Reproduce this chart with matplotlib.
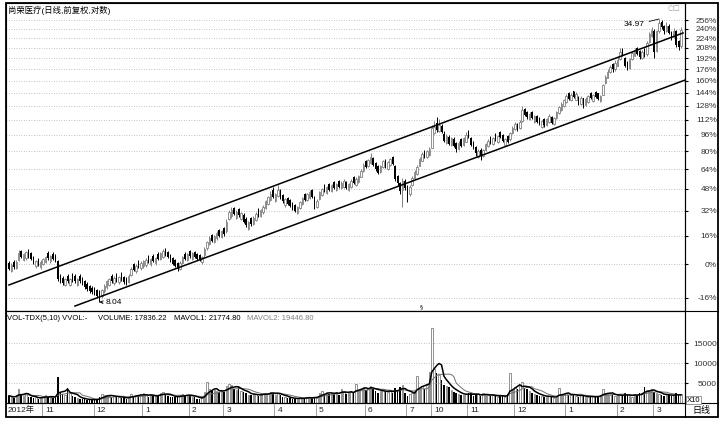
import numpy as np
import pandas as pd
import matplotlib
matplotlib.use('Agg')
import matplotlib.pyplot as plt
from matplotlib.ticker import NullLocator
from matplotlib.patches import Rectangle
from matplotlib.lines import Line2D

plt.rcParams['font.family'] = ['Liberation Sans', 'Noto Sans CJK SC', 'DejaVu Sans']
plt.rcParams['axes.unicode_minus'] = False

# ---- data ----
title = '尚荣医疗(日线,前复权,对数)'
base_price = 9.77          # price at the 0% line
pct_ticks = [-16, 0, 16, 32, 48, 64, 80, 96, 112, 128, 144, 160, 176, 192, 208, 224, 240, 256]
vol_ticks = [5000, 10000, 15000]

month_starts = [0, 14, 35, 55, 74, 88, 109, 126, 146, 163, 173, 188, 207, 228, 249, 264]
month_labels = ['2012年', '11', '12', '1', '2', '3', '4', '5', '6', '7', '10', '11', '12', '1', '2', '3']

opens = [
    9.85, 9.45, 9.90, 9.60, 10.00, 10.45, 10.00, 10.10, 10.50, 10.35,
    10.12, 9.68, 10.02, 9.62, 9.78, 9.88, 10.38, 9.92, 10.32, 10.22,
    9.95, 9.20, 9.10, 8.80, 9.20, 8.80, 9.25, 9.20, 8.80, 9.20,
    9.08, 8.95, 8.82, 8.74, 8.66, 8.62, 8.55, 8.48, 8.28, 8.50,
    8.70, 8.80, 9.20, 8.85, 9.25, 8.90, 9.30, 9.15, 9.08, 8.92,
    9.25, 9.78, 9.42, 9.92, 9.58, 9.68, 9.72, 10.18, 9.78, 10.22,
    9.82, 10.32, 10.05, 10.15, 10.58, 10.42, 10.22, 10.08, 9.98, 9.82,
    9.55, 9.85, 10.32, 10.00, 10.48, 10.05, 10.42, 10.30, 10.25, 9.88,
    10.25, 10.62, 10.88, 11.38, 10.98, 11.18, 11.68, 11.28, 11.80, 11.60,
    12.35, 12.55, 13.10, 12.45, 13.00, 12.35, 12.65, 12.40, 11.75, 12.45,
    12.05, 12.30, 13.00, 12.55, 12.80, 13.12, 13.40, 13.65, 14.35, 13.60,
    13.95, 14.30, 13.98, 13.28, 13.82, 13.65, 13.45, 13.30, 12.75, 13.08,
    13.38, 14.08, 13.62, 13.82, 14.35, 13.85, 13.15, 13.72, 14.00, 14.78,
    14.15, 14.85, 14.30, 15.00, 14.40, 15.05, 14.50, 14.60, 15.02, 14.35,
    14.62, 15.38, 14.78, 15.00, 15.42, 15.90, 16.72, 16.25, 16.55, 16.95,
    16.55, 16.28, 15.78, 16.18, 16.80, 16.05, 16.35, 17.05, 16.30, 15.45,
    14.90, 14.40, 15.10, 14.65, 14.10, 14.75, 15.28, 15.65, 16.32, 16.75,
    17.62, 17.05, 17.25, 17.90, 19.30, 20.35, 19.55, 20.10, 19.25, 18.40,
    18.95, 18.20, 18.72, 18.40, 17.80, 18.70, 18.20, 18.50, 19.50, 18.80,
    18.45, 17.95, 17.05, 17.75, 17.15, 17.75, 18.05, 18.95, 18.25, 19.20,
    18.45, 19.40, 19.10, 18.15, 19.00, 18.70, 19.30, 19.70, 20.25, 19.80,
    20.60, 21.90, 21.60, 20.75, 21.55, 20.50, 21.15, 20.90, 19.95, 20.80,
    20.15, 20.45, 21.05, 20.25, 20.95, 21.45, 21.80, 22.20, 22.70, 23.80,
    22.90, 24.00, 23.00, 23.35, 22.50, 23.15, 22.35, 22.75, 23.85, 22.85,
    23.95, 23.75, 22.80, 23.60, 25.10, 25.80, 26.50, 27.70, 26.90, 27.45,
    28.40, 29.90, 28.60, 27.90, 27.10, 28.35, 28.90, 30.10, 29.60, 28.50,
    29.90, 29.20, 31.00, 32.00, 32.90, 29.60, 32.90, 34.50, 33.80, 32.80,
    33.70, 32.70, 31.80, 32.90, 31.20, 30.40,
]
highs = [
    9.92, 9.82, 9.98, 9.98, 10.55, 10.52, 10.38, 10.48, 10.58, 10.42,
    10.20, 10.02, 10.10, 9.98, 10.12, 10.22, 10.45, 10.28, 10.40, 10.30,
    10.02, 9.28, 9.18, 9.12, 9.28, 9.12, 9.32, 9.28, 9.12, 9.28,
    9.15, 9.02, 8.90, 8.80, 8.72, 8.70, 8.62, 8.54, 8.62, 8.82,
    9.02, 9.12, 9.28, 9.18, 9.32, 9.22, 9.38, 9.22, 9.15, 9.28,
    9.62, 9.85, 9.78, 10.00, 9.92, 10.02, 10.08, 10.25, 10.12, 10.30,
    10.18, 10.40, 10.42, 10.58, 10.65, 10.50, 10.30, 10.15, 10.05, 9.90,
    9.92, 10.22, 10.40, 10.38, 10.55, 10.42, 10.50, 10.38, 10.32, 10.22,
    10.70, 11.05, 11.30, 11.45, 11.40, 11.60, 11.75, 11.70, 11.88, 12.35,
    12.95, 13.20, 13.18, 12.95, 13.08, 12.85, 12.75, 12.48, 12.25, 12.52,
    12.55, 12.80, 13.08, 13.05, 13.30, 13.65, 13.95, 14.30, 14.60, 14.15,
    14.75, 14.45, 14.05, 13.80, 13.90, 13.72, 13.52, 13.38, 13.25, 13.60,
    13.90, 14.15, 14.15, 14.40, 14.45, 13.95, 13.70, 14.30, 14.55, 14.85,
    14.70, 14.92, 14.85, 15.08, 14.95, 15.12, 15.05, 15.20, 15.10, 14.90,
    15.20, 15.45, 15.35, 15.55, 16.02, 16.52, 16.80, 16.92, 17.45, 17.05,
    16.62, 16.35, 16.40, 16.82, 16.88, 16.70, 17.00, 17.12, 16.38, 15.55,
    15.00, 15.30, 15.25, 14.75, 14.75, 15.45, 15.95, 16.35, 17.05, 17.50,
    17.72, 17.75, 17.95, 20.20, 20.60, 21.00, 20.80, 20.30, 19.50, 19.20,
    19.10, 18.95, 18.90, 18.50, 18.55, 18.85, 18.95, 19.40, 19.62, 18.95,
    18.55, 18.05, 17.80, 17.85, 17.80, 18.40, 18.75, 19.05, 18.90, 19.30,
    19.10, 19.50, 19.20, 18.85, 19.10, 19.40, 20.10, 20.50, 20.40, 20.70,
    22.20, 22.05, 21.70, 21.55, 21.65, 21.25, 21.25, 21.00, 20.70, 20.90,
    20.95, 21.30, 21.15, 21.00, 21.70, 22.30, 22.70, 23.10, 23.70, 23.90,
    23.80, 24.10, 23.90, 23.45, 23.40, 23.25, 23.30, 23.60, 23.95, 23.70,
    24.05, 23.85, 23.55, 25.00, 26.20, 26.90, 27.60, 27.80, 28.20, 28.70,
    30.10, 30.10, 28.75, 28.05, 28.60, 29.60, 30.10, 30.25, 29.75, 29.70,
    30.05, 31.20, 32.70, 33.60, 33.20, 33.10, 34.97, 34.70, 33.95, 34.40,
    34.00, 32.85, 33.30, 33.00, 31.40, 33.60,
]
lows = [
    9.48, 9.38, 9.55, 9.52, 9.92, 10.08, 9.92, 10.02, 10.12, 9.98,
    9.78, 9.60, 9.68, 9.55, 9.72, 9.82, 10.02, 9.85, 9.98, 9.88,
    8.98, 8.88, 8.78, 8.72, 8.88, 8.72, 8.92, 8.88, 8.72, 8.88,
    8.78, 8.62, 8.52, 8.42, 8.38, 8.32, 8.22, 8.04, 8.20, 8.44,
    8.62, 8.72, 8.88, 8.78, 8.92, 8.82, 8.98, 8.82, 8.76, 8.85,
    9.18, 9.42, 9.35, 9.58, 9.50, 9.60, 9.65, 9.82, 9.70, 9.88,
    9.75, 9.98, 9.98, 10.08, 10.22, 10.08, 9.88, 9.72, 9.62, 9.45,
    9.48, 9.78, 9.98, 9.92, 10.12, 9.98, 10.08, 9.98, 9.92, 9.80,
    10.18, 10.55, 10.80, 10.95, 10.90, 11.10, 11.25, 11.20, 11.35, 11.52,
    12.28, 12.45, 12.60, 12.38, 12.50, 12.28, 12.10, 11.88, 11.68, 11.95,
    11.98, 12.22, 12.50, 12.48, 12.72, 13.05, 13.32, 13.58, 13.80, 13.52,
    13.88, 13.75, 13.45, 13.20, 13.32, 13.15, 12.95, 12.80, 12.68, 13.00,
    13.30, 13.55, 13.55, 13.75, 13.82, 13.00, 13.08, 13.65, 13.92, 14.20,
    14.08, 14.32, 14.22, 14.48, 14.32, 14.52, 14.42, 14.52, 14.45, 14.28,
    14.55, 14.82, 14.70, 14.92, 15.35, 15.82, 16.10, 16.18, 16.48, 16.30,
    15.90, 15.65, 15.70, 16.10, 16.15, 15.98, 16.28, 16.40, 15.10, 14.70,
    14.10, 13.20, 14.35, 13.50, 13.95, 14.65, 15.20, 15.58, 16.25, 16.68,
    16.95, 16.95, 17.15, 17.85, 19.20, 19.40, 19.45, 19.30, 18.50, 18.30,
    18.20, 18.10, 17.95, 17.55, 17.70, 18.00, 18.10, 18.42, 18.80, 18.10,
    17.80, 17.20, 16.95, 16.80, 17.05, 17.65, 17.98, 18.30, 18.18, 18.60,
    18.38, 18.80, 18.50, 18.05, 18.40, 18.60, 19.20, 19.62, 19.50, 19.70,
    20.50, 21.10, 20.85, 20.65, 20.80, 20.40, 20.40, 20.20, 19.85, 20.00,
    20.05, 20.35, 20.30, 20.15, 20.85, 21.35, 21.70, 22.10, 22.60, 22.95,
    22.80, 23.20, 22.90, 22.40, 22.40, 22.00, 22.25, 22.65, 23.05, 22.75,
    23.15, 22.95, 22.70, 23.50, 25.00, 25.70, 26.40, 26.60, 26.70, 27.35,
    28.25, 28.80, 27.20, 26.80, 26.90, 28.20, 28.80, 29.00, 28.40, 28.35,
    28.70, 28.90, 30.80, 31.80, 28.60, 29.40, 32.60, 33.20, 32.40, 32.70,
    32.40, 31.40, 31.60, 30.20, 29.80, 30.10,
]
closes = [
    9.55, 9.75, 9.62, 9.90, 10.35, 10.15, 10.30, 10.40, 10.20, 10.05,
    9.85, 9.95, 9.75, 9.90, 10.05, 10.15, 10.10, 10.20, 10.05, 9.95,
    9.05, 8.95, 8.85, 9.05, 8.95, 9.05, 9.00, 8.95, 9.05, 8.95,
    8.85, 8.70, 8.60, 8.50, 8.45, 8.40, 8.30, 8.25, 8.55, 8.75,
    8.95, 9.05, 8.95, 9.10, 9.00, 9.15, 9.05, 8.90, 8.85, 9.20,
    9.55, 9.50, 9.70, 9.65, 9.85, 9.95, 10.00, 9.90, 10.05, 9.95,
    10.10, 10.05, 10.35, 10.45, 10.30, 10.15, 9.95, 9.80, 9.70, 9.55,
    9.85, 10.15, 10.05, 10.30, 10.20, 10.35, 10.15, 10.05, 10.00, 10.15,
    10.60, 10.95, 11.20, 11.05, 11.30, 11.50, 11.35, 11.60, 11.45, 12.20,
    12.80, 12.95, 12.70, 12.85, 12.60, 12.75, 12.20, 12.00, 12.15, 12.05,
    12.45, 12.70, 12.60, 12.95, 13.20, 13.55, 13.85, 14.10, 13.90, 14.05,
    14.40, 13.85, 13.55, 13.70, 13.40, 13.25, 13.05, 12.90, 13.15, 13.50,
    13.80, 13.65, 14.05, 14.25, 13.90, 13.30, 13.60, 14.20, 14.45, 14.30,
    14.60, 14.40, 14.75, 14.55, 14.85, 14.60, 14.95, 15.05, 14.55, 14.80,
    15.10, 14.90, 15.25, 15.45, 15.90, 16.40, 16.20, 16.80, 17.10, 16.40,
    16.00, 15.75, 16.30, 16.70, 16.25, 16.60, 16.90, 16.50, 15.20, 14.90,
    14.30, 15.10, 14.50, 14.10, 14.60, 15.30, 15.80, 16.20, 16.90, 17.30,
    17.10, 17.60, 17.80, 19.80, 20.00, 19.60, 20.20, 19.40, 18.60, 19.00,
    18.30, 18.80, 18.10, 17.80, 18.40, 18.10, 18.80, 19.10, 18.90, 18.20,
    17.90, 17.40, 17.60, 17.20, 17.70, 18.30, 18.60, 18.40, 18.80, 18.70,
    19.00, 18.90, 18.60, 18.70, 18.50, 19.30, 19.90, 20.30, 19.60, 20.50,
    21.80, 21.20, 21.00, 21.40, 20.90, 21.10, 20.50, 20.30, 20.60, 20.20,
    20.80, 21.10, 20.40, 20.90, 21.60, 22.10, 22.50, 22.90, 23.40, 23.10,
    23.60, 23.30, 23.70, 22.60, 23.20, 22.40, 23.10, 23.40, 23.20, 23.50,
    23.30, 23.10, 23.40, 24.80, 25.90, 26.60, 27.30, 26.90, 27.80, 28.30,
    29.50, 29.00, 27.40, 27.00, 28.40, 29.30, 29.80, 29.20, 28.70, 29.40,
    29.00, 30.90, 32.30, 33.00, 29.50, 32.80, 34.20, 33.60, 32.90, 33.80,
    32.60, 31.80, 32.90, 30.60, 30.20, 33.00,
]
volumes = [
    1800, 1500, 1300, 2000, 3500, 2200, 1800, 2400, 1600, 1400,
    1200, 1500, 1100, 1300, 1700, 1900, 1400, 1600, 1300, 1200,
    6500, 2800, 2300, 2100, 3700, 2400, 1800, 1500, 1200, 1100,
    900, 1000, 800, 700, 900, 800, 1000, 1400, 2200, 1900,
    2100, 1700, 1500, 1800, 1400, 1600, 1300, 1200, 1100, 1500,
    2300, 1800, 2000, 1700, 2200, 2500, 1900, 1600, 2000, 1800,
    1700, 1900, 2600, 2800, 2100, 1800, 1600, 1500, 1400, 1700,
    1900, 2200, 1800, 2100, 1900, 1600, 1400, 1100, 1000, 1300,
    2700, 5200, 3400, 2900, 3300, 3100, 2800, 3200, 2700, 4200,
    4800, 4500, 3600, 3300, 3900, 3000, 2700, 2400, 2100, 1900,
    2200, 2300, 1800, 2000, 2400, 2600, 2300, 2800, 2500, 2100,
    2600, 1900, 1500, 1400, 1300, 1200, 1100, 1000, 1100, 1400,
    1300, 1100, 1500, 1400, 1200, 1600, 1300, 2600, 2900, 2300,
    2700, 2200, 2500, 2400, 2800, 2100, 3500, 2900, 2300, 2600,
    2800, 2500, 4800, 3200, 3600, 4100, 3300, 3700, 4300, 3500,
    2900, 2600, 3100, 3400, 2800, 2700, 3000, 2500, 3800, 3300,
    3900, 4500, 2600, 1800, 2200, 2600, 3100, 6700, 3800, 4300,
    3600, 4400, 7700, 18700, 8500, 7500, 7000, 5800, 4600, 4200,
    3900, 3300, 2800, 2500, 2300, 2100, 1900, 2200, 2600, 2400,
    1800, 2000, 2300, 1700, 2500, 2100, 1900, 1700, 2000, 1800,
    1600, 1900, 1700, 1500, 2300, 7500, 3300, 3900, 3600, 4500,
    5200, 3800, 3400, 2900, 2600, 2300, 2000, 1800, 1700, 1500,
    1600, 1800, 1400, 1300, 1500, 3700, 2300, 2100, 2400, 2000,
    1900, 2200, 1800, 1600, 2000, 1700, 1500, 1400, 1600, 1800,
    1500, 1700, 1900, 3500, 2600, 2300, 2000, 2200, 1800, 1900,
    2100, 1700, 2400, 2000, 1800, 1600, 2300, 2100, 2600, 2400,
    4000, 3200, 2900, 3400, 2700, 2500, 2200, 2000, 1800, 2300,
    2100, 1700, 1900, 2400, 2000, 2200,
]

# channel lines drawn on the chart (bar index, price)
upper_x, upper_y = [0, 275.8], [8.78, 32.52]
lower_x, lower_y = [27, 276.6], [7.87, 25.46]

# ---- layout (pixel boxes of the 728x423 picture) ----
W, H = 728, 423
def fig_box(x0, y0, x1, y1):
    return [x0 / W, 1 - y1 / H, (x1 - x0) / W, (y1 - y0) / H]

fig = plt.figure(figsize=(W / 100, H / 100), dpi=100)
ax1 = fig.add_axes(fig_box(6, 3, 685, 311))
ax2 = fig.add_axes(fig_box(6, 311, 685, 403), sharex=ax1)
ax3 = fig.add_axes(fig_box(6, 403, 685, 417), sharex=ax1)

o = np.array(opens); h = np.array(highs); l = np.array(lows); c = np.array(closes)
v = np.array(volumes)
idx = np.arange(len(c))
up = c >= o
up_col, dn_col = '#808080', 'black'

# ---- price candles ----
ax1.vlines(idx[up], l[up], h[up], color=up_col, lw=0.7, zorder=2)
ax1.vlines(idx[~up], l[~up], h[~up], color=dn_col, lw=0.7, zorder=2)
body_lo = np.minimum(o, c)
body_hi = np.maximum(o, c)
ax1.bar(idx[up], (body_hi - body_lo)[up], bottom=body_lo[up], width=0.6,
        facecolor='white', edgecolor=up_col, lw=0.6, zorder=3)
ax1.bar(idx[~up], (body_hi - body_lo)[~up], bottom=body_lo[~up], width=0.6,
        color=dn_col, lw=0, zorder=3)

ax1.plot(upper_x, upper_y, color='black', lw=1.1, zorder=4)
ax1.plot(lower_x, lower_y, color='black', lw=1.1, zorder=4)

ax1.set_yscale('log')
ax1.set_ylim(7.67, 38.0)
ax1.set_xlim(-1.2, 276.6)
ax1.yaxis.set_minor_locator(NullLocator())
ax1.set_yticks([base_price * (1 + p / 100) for p in pct_ticks])
ax1.set_yticklabels([f'{p}%' for p in pct_ticks])
ax1.yaxis.tick_right()
ax1.tick_params(axis='y', length=2, pad=21, labelsize=6, labelcolor='#333333')
plt.setp(ax1.get_yticklabels(), ha='right')
ax1.tick_params(axis='x', bottom=False, labelbottom=False)
ax1.grid(axis='y', color='#b0b0b0', linestyle=(0, (1, 2)), lw=0.6)

# low / high marks
ax1.annotate('8.04', xy=(37, 8.04), xytext=(39.6, 8.0), fontsize=6,
             va='center', ha='left',
             arrowprops=dict(arrowstyle='->', lw=0.6, color='black',
                             shrinkA=0, shrinkB=0, mutation_scale=5))
ax1.annotate('34.97', xy=(266, 34.97), xytext=(260.2, 33.9), fontsize=6,
             va='center', ha='right',
             arrowprops=dict(arrowstyle='-', lw=0.6, color='black',
                             shrinkA=1, shrinkB=0))

# ---- volume ----
ax2.bar(idx[up], v[up], width=0.6, facecolor='white', edgecolor=up_col, lw=0.6)
ax2.bar(idx[~up], v[~up], width=0.6, color=dn_col, lw=0)
ma5 = pd.Series(v).rolling(5, min_periods=1).mean()
ma10 = pd.Series(v).rolling(10, min_periods=1).mean()
ax2.plot(idx, ma10, color='#707070', lw=0.7)
ax2.plot(idx, ma5, color='black', lw=1.1)
ax2.set_ylim(0, 23000)
ax2.set_yticks(vol_ticks)
ax2.set_yticklabels([str(t) for t in vol_ticks])
ax2.yaxis.tick_right()
ax2.tick_params(axis='y', length=2, pad=21, labelsize=6, labelcolor='#333333')
plt.setp(ax2.get_yticklabels(), ha='right')
ax2.tick_params(axis='x', bottom=False, labelbottom=False)
ax2.grid(axis='y', color='#b0b0b0', linestyle=(0, (1, 2)), lw=0.6)

# ---- month row ----
ax3.set_ylim(0, 1)
ax3.axis('off')
for k, (m, lab) in enumerate(zip(month_starts, month_labels)):
    if k > 0:
        ax3.vlines(m - 0.4, 0.1, 0.9, color='#909090', lw=0.6)
        tx = m + 0.9
    else:
        tx = -0.7
    ax3.text(tx, 0.5, lab, fontsize=6, va='center', ha='left', color='#222222')

for ax in (ax1, ax2):
    for s in ax.spines.values():
        s.set_linewidth(0.8)

# ---- frame and texts ----
fig.add_artist(Rectangle((6 / W, 1 - 417 / H), 712 / W, 414 / H, fill=False,
                         lw=1.3, edgecolor='black', transform=fig.transFigure))
fig.add_artist(Line2D([685 / W, 685 / W], [1 - 3 / H, 1 - 417 / H], lw=0.8, color='black'))
for yy in (311, 403):
    fig.add_artist(Line2D([6 / W, 718 / W], [1 - yy / H, 1 - yy / H], lw=0.8, color='black'))

fig.text(8 / W, 1 - 10 / H, title, fontsize=6, va='center', ha='left')
fig.text(668 / W, 1 - 8 / H, '○□', fontsize=5, color='#999999', va='center',
         family='DejaVu Sans')
fig.text(421 / W, 1 - 307 / H, '§', fontsize=4.5, va='center', ha='center',
         family='DejaVu Sans')

fig.text(7 / W, 1 - 319 / H, 'VOL-TDX(5,10) VVOL:-', fontsize=5.5, va='center')
fig.text(98 / W, 1 - 319 / H, 'VOLUME: 17836.22', fontsize=5.5, va='center')
fig.text(174 / W, 1 - 319 / H, 'MAVOL1: 21774.80', fontsize=5.5, va='center')
fig.text(247 / W, 1 - 319 / H, 'MAVOL2: 19446.80', fontsize=5.5, va='center',
         color='#808080')

fig.text(687 / W, 1 - 400 / H, 'X10', fontsize=5.5, va='center', ha='left',
         bbox=dict(boxstyle='square,pad=0.1', fc='white', ec='#888888', lw=0.6))
fig.text(701 / W, 1 - 410 / H, '日线', fontsize=6.5, va='center', ha='center')

fig.savefig('out.png', dpi=100)
